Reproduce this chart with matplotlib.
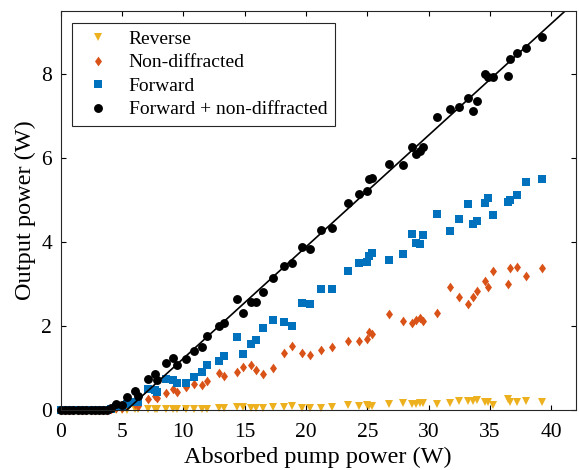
import numpy as np
import matplotlib
matplotlib.use('Agg')
import matplotlib.pyplot as plt

plt.rcParams['font.family'] = ['Liberation Serif', 'DejaVu Serif']

# absorbed pump power (W), shared by all series
pump = [0, 0.35, 0.7, 1.05, 1.4, 1.75, 2.1, 2.45, 2.8, 3.15, 3.5, 3.8, 4.1,
        4.5, 5.0, 5.4, 6.1, 6.3, 7.1, 7.7, 7.9, 8.6, 9.2, 9.5, 10.2, 10.9,
        11.5, 11.9, 12.9, 13.3, 14.4, 14.9, 15.5, 15.9, 16.5, 17.3, 18.2,
        18.9, 19.7, 20.3, 21.2, 22.1, 23.4, 24.3, 25.0, 25.1, 25.4, 26.8,
        27.9, 28.6, 29.0, 29.3, 29.5, 30.7, 31.7, 32.5, 33.2, 33.6, 33.9,
        34.6, 34.8, 35.2, 36.5, 36.6, 37.2, 37.9, 39.2]

reverse = [0, 0, 0, 0, 0, 0, 0, 0, 0, 0, 0, 0, 0,
           0, 0.01, 0.01, 0.02, 0.02, 0.02, 0.02, 0.02, 0.02, 0.03, 0.03, 0.02, 0.02,
           0.02, 0.03, 0.04, 0.04, 0.06, 0.06, 0.05, 0.05, 0.04, 0.06, 0.07,
           0.09, 0.05, 0.04, 0.05, 0.07, 0.12, 0.10, 0.12, 0.10, 0.10, 0.14,
           0.17, 0.14, 0.14, 0.16, 0.16, 0.14, 0.17, 0.21, 0.21, 0.21, 0.24,
           0.20, 0.18, 0.13, 0.25, 0.19, 0.19, 0.22, 0.20]

non_diffracted = [0, 0, 0, 0, 0, 0, 0, 0, 0, 0, 0, 0, 0.02,
                  0.05, 0.05, 0.12, 0.15, 0.10, 0.26, 0.34, 0.28, 0.40, 0.51, 0.43, 0.55, 0.61,
                  0.59, 0.68, 0.87, 0.81, 0.90, 1.02, 1.06, 0.95, 0.86, 1.00, 1.35,
                  1.53, 1.35, 1.30, 1.44, 1.50, 1.64, 1.65, 1.70, 1.85, 1.80, 2.29,
                  2.12, 2.07, 2.14, 2.20, 2.13, 2.30, 2.92, 2.68, 2.52, 2.68, 2.84,
                  3.06, 2.92, 3.30, 2.99, 3.38, 3.40, 3.20, 3.39]

forward = [0, 0, 0, 0, 0, 0, 0, 0, 0, 0, 0, 0, 0.03,
           0.08, 0.08, 0.15, 0.18, 0.20, 0.50, 0.48, 0.43, 0.73, 0.71, 0.64, 0.65, 0.79,
           0.91, 1.08, 1.16, 1.28, 1.73, 1.33, 1.56, 1.66, 1.95, 2.15, 2.09,
           1.99, 2.55, 2.52, 2.88, 2.88, 3.32, 3.51, 3.53, 3.67, 3.74, 3.58,
           3.72, 4.20, 3.97, 3.96, 4.17, 4.67, 4.26, 4.55, 4.90, 4.43, 4.49,
           4.93, 5.05, 4.65, 4.96, 4.99, 5.12, 5.43, 5.50]

total = [0, 0, 0, 0, 0, 0, 0, 0, 0, 0, 0, 0, 0.05,
         0.15, 0.13, 0.30, 0.45, 0.33, 0.73, 0.86, 0.72, 1.11, 1.23, 1.07, 1.22, 1.40,
         1.50, 1.75, 2.00, 2.08, 2.64, 2.32, 2.58, 2.58, 2.80, 3.15, 3.43,
         3.50, 3.89, 3.84, 4.29, 4.34, 4.94, 5.15, 5.22, 5.49, 5.52, 5.86,
         5.84, 6.26, 6.10, 6.16, 6.27, 6.97, 7.16, 7.21, 7.42, 7.13, 7.35,
         7.99, 7.94, 7.94, 7.96, 8.35, 8.51, 8.63, 8.87]

# linear fit of the total output
fit_slope = 0.266
fit_threshold = 5.4

# matlab-like diamond (wider than mpl 'd')
diamond = [(0, 1), (0.72, 0), (0, -1), (-0.72, 0), (0, 1)]

fig = plt.figure(figsize=(5.79, 4.70), dpi=100)
ax = fig.add_axes([0.1045, 0.1277, 0.8903, 0.8489])

ax.plot(pump, reverse, 'v', color='#EDB120', ms=5.8, mew=0, clip_on=False,
        label='Reverse')
ax.plot(pump, non_diffracted, marker=diamond, ls='none', color='#D95319',
        ms=7.0, mew=0, clip_on=False, label='Non-diffracted')
ax.plot(pump, forward, 's', color='#0072BD', ms=5.5, mew=0, clip_on=False,
        label='Forward')
ax.plot(pump, total, 'o', color='black', ms=6.4, mew=0, clip_on=False,
        label='Forward + non-diffracted')

xfit = np.array([fit_threshold, 42])
ax.plot(xfit, fit_slope * (xfit - fit_threshold), '-', color='black', lw=1.2)

ax.set_xlim(0, 42)
ax.set_ylim(0, 9.5)
ax.set_xticks([0, 5, 10, 15, 20, 25, 30, 35, 40])
ax.set_yticks([0, 2, 4, 6, 8])
ax.tick_params(direction='in', top=True, right=True, length=3.6, width=0.8,
               labelsize=15.5)
ax.tick_params(axis='x', pad=9.5)
ax.tick_params(axis='y', pad=6)
for s in ax.spines.values():
    s.set_linewidth(0.8)
    s.set_color('#262626')

ax.set_xlabel('Absorbed pump power (W)', fontsize=17.5, labelpad=3)
ax.set_ylabel('Output power (W)', fontsize=17.5, labelpad=4)

leg = ax.legend(loc='upper left', fontsize=14, numpoints=1, fancybox=False,
                edgecolor='#262626', framealpha=1, borderaxespad=0.6,
                handlelength=1.9, handletextpad=0.6, labelspacing=0.3,
                borderpad=0.4)
leg.get_frame().set_linewidth(0.8)

fig.savefig('out.png', dpi=100)
